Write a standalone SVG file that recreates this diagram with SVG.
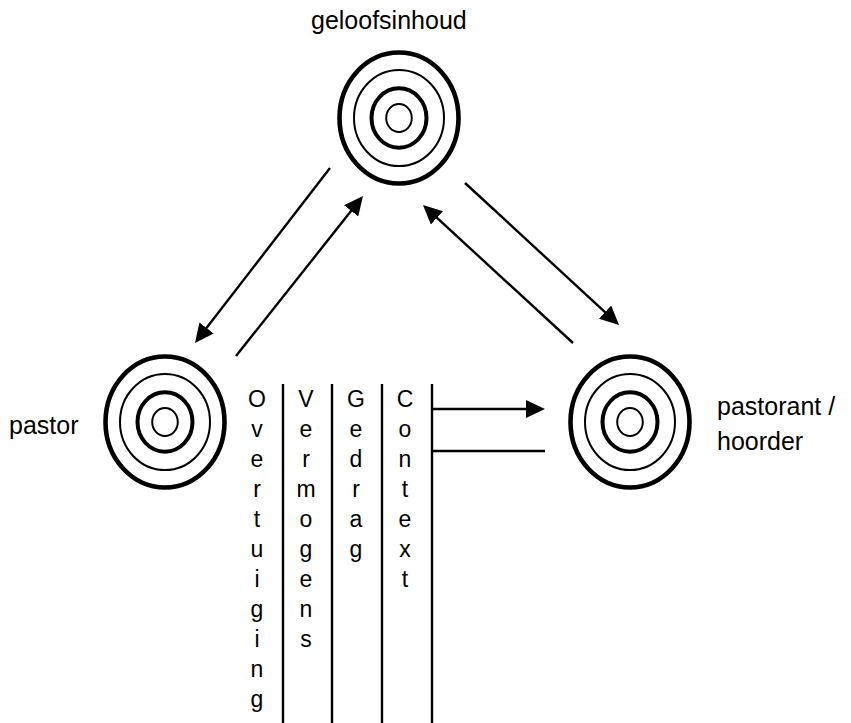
<svg xmlns="http://www.w3.org/2000/svg" width="851" height="723" viewBox="0 0 851 723">
<style>
  .bg { fill: #ffffff; }
  .r1 { fill: none; stroke: #000; stroke-width: 4.6; }
  .r2 { fill: none; stroke: #000; stroke-width: 2; }
  .r3 { fill: none; stroke: #000; stroke-width: 4; }
  .r4 { fill: none; stroke: #000; stroke-width: 2; }
  .conn { fill: none; stroke: #000; stroke-width: 2.4; }
  .lbl { font-family: "Liberation Sans", Arial, sans-serif; font-size: 25px; fill: #000; }
  .col { font-family: "Liberation Sans", Arial, sans-serif; font-size: 23px; fill: #000; text-anchor: middle; }
</style>
<defs>
  <marker id="arr" markerUnits="userSpaceOnUse" markerWidth="19" markerHeight="18" refX="15" refY="9" orient="auto" viewBox="0 0 19 18">
    <path d="M0,0 L19,9 L0,18 Z" fill="#000"/>
  </marker>
  <g id="target">
    <ellipse class="r1" cx="0" cy="0" rx="59.5" ry="65.5"/>
    <ellipse class="r2" cx="0" cy="0" rx="45" ry="48"/>
    <ellipse class="r3" cx="0" cy="0" rx="27.5" ry="29.7"/>
    <ellipse class="r4" cx="0" cy="0" rx="12.8" ry="14"/>
  </g>
</defs>
<rect class="bg" x="0" y="0" width="851" height="723"/>

<g id="node-geloofsinhoud">
  <use href="#target" x="399" y="118"/>
  <text class="lbl" x="311" y="29">geloofsinhoud</text>
</g>
<g id="node-pastor">
  <use href="#target" x="165" y="422"/>
  <text class="lbl" x="9" y="434">pastor</text>
</g>
<g id="node-pastorant">
  <use href="#target" x="630" y="422"/>
  <text class="lbl" x="717" y="415">pastorant /</text>
  <text class="lbl" x="717" y="450">hoorder</text>
</g>

<g id="columns">
  <line class="conn" x1="283" y1="384" x2="283" y2="723"/>
  <line class="conn" x1="332" y1="384" x2="332" y2="723"/>
  <line class="conn" x1="382" y1="384" x2="382" y2="723"/>
  <line class="conn" x1="432" y1="384" x2="432" y2="723"/>
  <g id="col-overtuiging">
    <text class="col" x="257" y="407">O</text>
    <text class="col" x="257" y="437">v</text>
    <text class="col" x="257" y="467">e</text>
    <text class="col" x="257" y="497">r</text>
    <text class="col" x="257" y="527">t</text>
    <text class="col" x="257" y="557">u</text>
    <text class="col" x="257" y="587">i</text>
    <text class="col" x="257" y="617">g</text>
    <text class="col" x="257" y="647">i</text>
    <text class="col" x="257" y="677">n</text>
    <text class="col" x="257" y="707">g</text>
  </g>
  <g id="col-vermogens">
    <text class="col" x="306" y="407">V</text>
    <text class="col" x="306" y="437">e</text>
    <text class="col" x="306" y="467">r</text>
    <text class="col" x="306" y="497">m</text>
    <text class="col" x="306" y="527">o</text>
    <text class="col" x="306" y="557">g</text>
    <text class="col" x="306" y="587">e</text>
    <text class="col" x="306" y="617">n</text>
    <text class="col" x="306" y="647">s</text>
  </g>
  <g id="col-gedrag">
    <text class="col" x="356" y="407">G</text>
    <text class="col" x="356" y="437">e</text>
    <text class="col" x="356" y="467">d</text>
    <text class="col" x="356" y="497">r</text>
    <text class="col" x="356" y="527">a</text>
    <text class="col" x="356" y="557">g</text>
  </g>
  <g id="col-context">
    <text class="col" x="405" y="407">C</text>
    <text class="col" x="405" y="437">o</text>
    <text class="col" x="405" y="467">n</text>
    <text class="col" x="405" y="497">t</text>
    <text class="col" x="405" y="527">e</text>
    <text class="col" x="405" y="557">x</text>
    <text class="col" x="405" y="587">t</text>
  </g>
</g>

<g id="connectors">
  <line class="conn" x1="330" y1="168" x2="197.4" y2="339.8" marker-end="url(#arr)"/>
  <line class="conn" x1="236" y1="356" x2="360.5" y2="199.1" marker-end="url(#arr)"/>
  <line class="conn" x1="465" y1="183" x2="616.1" y2="322.3" marker-end="url(#arr)"/>
  <line class="conn" x1="573" y1="343" x2="425.9" y2="207.7" marker-end="url(#arr)"/>
  <line class="conn" x1="432" y1="409" x2="541" y2="409" marker-end="url(#arr)"/>
  <line class="conn" x1="432" y1="451" x2="545" y2="451"/>
</g>
</svg>
